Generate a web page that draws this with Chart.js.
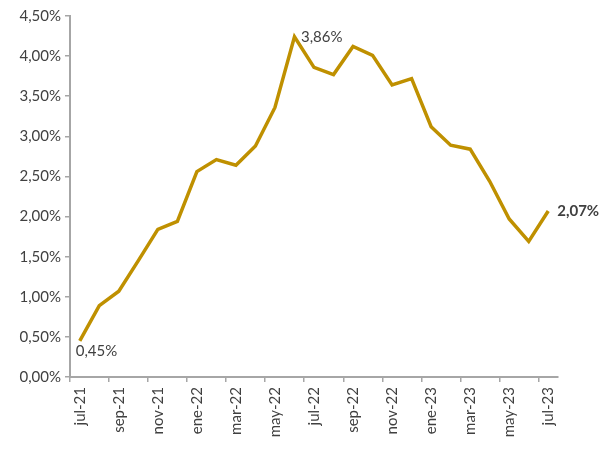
<!DOCTYPE html>
<html>
<head>
<meta charset="utf-8">
<script src="https://cdn.jsdelivr.net/npm/chart.js@4"></script>
<style>
  html, body { margin: 0; padding: 0; background: #fff; }
  #wrap { width: 605px; height: 451px; }
</style>
</head>
<body>
<div id="wrap"><canvas id="chart"></canvas></div>
<script>
const months = ['jul-21', 'ago-21', 'sep-21', 'oct-21', 'nov-21', 'dic-21',
    'ene-22', 'feb-22', 'mar-22', 'abr-22', 'may-22', 'jun-22',
    'jul-22', 'ago-22', 'sep-22', 'oct-22', 'nov-22', 'dic-22',
    'ene-23', 'feb-23', 'mar-23', 'abr-23', 'may-23', 'jun-23', 'jul-23'];
const rates = [0.45, 0.89, 1.07, 1.45, 1.84, 1.94,
    2.56, 2.71, 2.64, 2.88, 3.36, 4.24,
    3.86, 3.77, 4.12, 4.01, 3.64, 3.72,
    3.12, 2.89, 2.84, 2.44, 1.97, 1.69, 2.07];
// which points get a value label
const labelled = [0, 12, 24];

const textColor = '#404040';
const axisColor = '#A6A6A6';
const fontFamily = 'Lato, "Open Sans", sans-serif';
const fontSize = 15;

function fmt(v) {
    return v.toFixed(2).replace('.', ',') + '%';
}

const valueLabels = {
    id: 'valueLabels',
    afterDatasetsDraw(chart) {
        const ctx = chart.ctx;
        const meta = chart.getDatasetMeta(0);
        ctx.save();
        ctx.fillStyle = textColor;
        ctx.textBaseline = 'middle';
        ctx.textAlign = 'left';
        labelled.forEach(i => {
            const pt = meta.data[i];
            let dx = 0, dy = 0;
            ctx.font = fontSize + 'px ' + fontFamily;
            if (i === 0) { dx = -4; dy = 10; }
            else if (i === 24) { dx = 9; dy = 0; ctx.font = 'bold ' + fontSize + 'px ' + fontFamily; }
            else { dx = -13; dy = -30; }
            ctx.fillText(fmt(rates[i]), pt.x + dx, pt.y + dy);
        });
        ctx.restore();
    }
};

new Chart(document.getElementById('chart'), {
    type: 'line',
    data: {
        labels: months,
        datasets: [{
            data: rates,
            borderColor: '#BF9000',
            borderWidth: 3.5,
            pointRadius: 0,
            tension: 0,
            fill: false
        }]
    },
    options: {
        responsive: true,
        maintainAspectRatio: false,
        animation: false,
        layout: { padding: { left: 0, right: 47, top: 16, bottom: 0 } },
        plugins: {
            legend: { display: false },
            tooltip: { enabled: false }
        },
        scales: {
            x: {
                offset: true,
                afterFit(scale) { scale.height = 74; },
                grid: {
                    offset: true,
                    drawOnChartArea: false,
                    drawTicks: true,
                    tickLength: 5,
                    color: ctx => (ctx.index % 2 === 0 ? axisColor : 'rgba(0,0,0,0)'),
                    lineWidth: 1.5
                },
                border: { color: axisColor, width: 2 },
                ticks: {
                    autoSkip: false,
                    maxRotation: 90,
                    minRotation: 90,
                    padding: 5,
                    color: textColor,
                    font: { family: fontFamily, size: fontSize },
                    callback: (val, idx) => (idx % 2 === 0 ? months[idx] : '')
                }
            },
            y: {
                min: 0,
                max: 4.5,
                afterFit(scale) { scale.width = 70; },
                grid: {
                    drawOnChartArea: false,
                    drawTicks: true,
                    tickLength: 5,
                    color: axisColor,
                    lineWidth: 1.5
                },
                border: { color: axisColor, width: 2 },
                ticks: {
                    stepSize: 0.5,
                    padding: 4,
                    color: textColor,
                    font: { family: fontFamily, size: fontSize },
                    callback: v => fmt(v)
                }
            }
        }
    },
    plugins: [valueLabels]
});
</script>
</body>
</html>
